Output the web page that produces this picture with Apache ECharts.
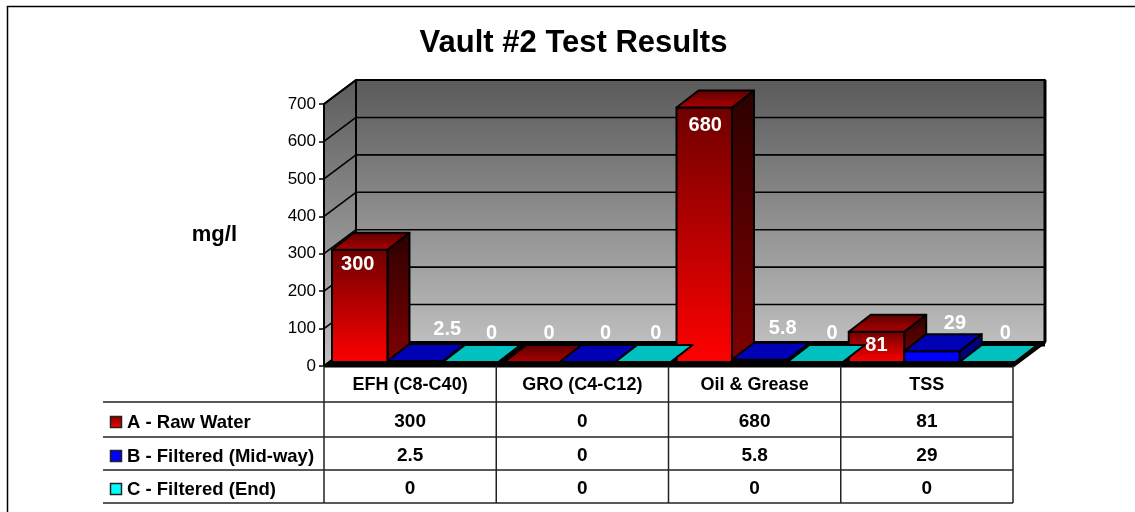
<!DOCTYPE html>
<html>
<head>
<meta charset="utf-8">
<title>Vault #2 Test Results</title>
<script src="https://cdn.jsdelivr.net/npm/echarts@6/dist/echarts.min.js"></script>
<style>
  html, body { margin: 0; padding: 0; background: #fff; }
  #chart { width: 1135px; height: 512px; }
</style>
</head>
<body>
<div id="chart"></div>
<script>
const categories = ['EFH (C8-C40)', 'GRO (C4-C12)', 'Oil & Grease', 'TSS']
const seriesNames = ['A - Raw Water', 'B - Filtered (Mid-way)', 'C - Filtered (End)']
const rawWater = [300, 0, 680, 81]
const filteredMid = [2.5, 0, 5.8, 29]
const filteredEnd = [0, 0, 0, 0]
const allValues = [rawWater, filteredMid, filteredEnd]
const yTicks = [100, 200, 300, 400, 500, 600, 700]

const FONT = 'Liberation Sans'
// depth of the whole plot box, of a bar, and of the bar's gap from the front edge
const BOX_DX = 32, BOX_DY = -24
const BAR_DX = 22, BAR_DY = -17
const BAR_INSET = 8, BAR_LIFT = 4, BAR_WIDTH_FRAC = 0.322
const rowY = [402, 437, 470, 503]

// hand placement of the value labels, like the original chart has them
const labelDx = [[-2, 17, 1, 0], [32, 18, 23, 23], [21, 13, 17, 18]]
const labelDy = [[15, -29, 18, 14], [-32, -29, -31, -28], [-29, -29, -29, -29]]

const vgrad = (c0, c1) => new echarts.graphic.LinearGradient(0, 0, 0, 1, [
  { offset: 0, color: c0 }, { offset: 1, color: c1 }
])
const edge = { stroke: '#000', lineWidth: 2, lineJoin: 'round' }

const barStyles = [
  { front: ['#6e0000', '#ff0000'], side: ['#2c0000', '#800000'], top: ['#5a0000', '#b00000'] },
  { front: ['#0000ff', '#0000ff'], side: ['#000080', '#000080'], top: ['#0000b4', '#0000b4'] },
  { front: ['#00ffff', '#00ffff'], side: ['#008080', '#008080'], top: ['#00c0c0', '#00c0c0'] }
]

const poly = (points, fill) => ({
  type: 'polygon', shape: { points: points },
  style: Object.assign({}, edge, { fill: fill })
})
const line = (x1, y1, x2, y2, width, color) => ({
  type: 'line', shape: { x1: x1, y1: y1, x2: x2, y2: y2 },
  style: { stroke: color || '#000', lineWidth: width || 2 }
})

function renderBox(params, api) {
  const c = params.coordSys
  const l = c.x, r = c.x + c.width, t = c.y, b = c.y + c.height
  return {
    type: 'group',
    children: [
      poly([[l + BOX_DX, t + BOX_DY], [r + BOX_DX, t + BOX_DY], [r + BOX_DX, b + BOX_DY], [l + BOX_DX, b + BOX_DY]],
        vgrad('#5a5a5a', '#bebebe')),
      poly([[l, t], [l + BOX_DX, t + BOX_DY], [l + BOX_DX, b + BOX_DY], [l, b]], vgrad('#5c5c5c', '#c0c0c0')),
      poly([[l, b], [l + BOX_DX, b + BOX_DY], [r + BOX_DX, b + BOX_DY], [r, b]], '#000'),
      line(l, b, r, b, 3),
      line(r, b, r + BOX_DX, b + BOX_DY, 3),
      line(l + BOX_DX, b + BOX_DY + 2, r + BOX_DX, b + BOX_DY + 2, 5),
      line(r + BOX_DX, t + BOX_DY, r + BOX_DX, b + BOX_DY, 3)
    ]
  }
}

function renderGridLine(params, api) {
  const c = params.coordSys
  const y = api.coord([0, api.value(0)])[1]
  return {
    type: 'group',
    children: [
      line(c.x, y, c.x + BOX_DX, y + BOX_DY, 1.6),
      line(c.x + BOX_DX, y + BOX_DY, c.x + c.width + BOX_DX, y + BOX_DY, 1.6)
    ]
  }
}

function makeBarRenderer(s) {
  return function (params, api) {
    const i = params.dataIndex
    const value = api.value(1)
    const band = api.size([1, 0])[0]
    const pos = api.coord([i, value])
    const base = api.coord([i, 0])[1] - BAR_LIFT
    const width = band * BAR_WIDTH_FRAC
    const x0 = pos[0] - band / 2 + BAR_INSET + s * width
    const x1 = x0 + width
    const top = pos[1] - BAR_LIFT
    const st = barStyles[s]
    const children = []
    if (base - top >= 1) {
      children.push(poly([[x1, top], [x1 + BAR_DX, top + BAR_DY], [x1 + BAR_DX, base + BAR_DY], [x1, base]], vgrad(st.side[0], st.side[1])))
      children.push(poly([[x0, top], [x1, top], [x1, base], [x0, base]], vgrad(st.front[0], st.front[1])))
    }
    children.push(poly([[x0, top], [x0 + BAR_DX, top + BAR_DY], [x1 + BAR_DX, top + BAR_DY], [x1, top]], vgrad(st.top[0], st.top[1])))
    children.push({
      type: 'text', z2: 10,
      style: {
        text: String(allValues[s][i]),
        x: (x0 + x1) / 2 + labelDx[s][i], y: top + labelDy[s][i],
        fill: '#fff', font: 'bold 20px "' + FONT + '"', textAlign: 'center', textVerticalAlign: 'middle'
      }
    })
    return { type: 'group', children: children }
  }
}

function renderTableColumn(params, api) {
  const i = params.dataIndex
  const band = api.size([1, 0])[0]
  const cx = api.coord([i, 0])[0]
  const yTop = params.coordSys.y + params.coordSys.height
  const children = [line(cx - band / 2, yTop, cx - band / 2, rowY[3], 1.5, '#222')]
  if (i === categories.length - 1) {
    children.push(line(cx + band / 2, yTop, cx + band / 2, rowY[3], 1.5, '#222'))
  }
  allValues.forEach(function (vals, r) {
    children.push({
      type: 'text',
      style: {
        text: String(vals[i]), x: cx, y: (rowY[r] + rowY[r + 1]) / 2 + 2,
        fill: '#000', font: 'bold 19px "' + FONT + '"', textAlign: 'center', textVerticalAlign: 'middle'
      }
    })
  })
  return { type: 'group', children: children }
}

const swatchFills = [['#800000', '#ff0000'], ['#0000ff', '#0000ff'], ['#00ffff', '#00ffff']]
const tableGraphic = [{
  // the frame runs off the right and bottom of the picture
  type: 'rect', silent: true, shape: { x: 7.5, y: 6.5, width: 1200, height: 600 },
  style: { fill: 'none', stroke: '#000', lineWidth: 1.5 }
}]
rowY.forEach(function (y) {
  tableGraphic.push({
    type: 'line', silent: true, shape: { x1: 103, y1: y, x2: 1013, y2: y },
    style: { stroke: '#222', lineWidth: 1.5 }
  })
})
seriesNames.forEach(function (name, r) {
  const mid = (rowY[r] + rowY[r + 1]) / 2
  tableGraphic.push({
    type: 'rect', silent: true, shape: { x: 110.5, y: mid - 3, width: 11, height: 11 },
    style: { fill: vgrad(swatchFills[r][0], swatchFills[r][1]), stroke: '#222', lineWidth: 1.5 }
  })
  tableGraphic.push({
    type: 'text', silent: true, x: 127, y: mid + 3,
    style: { text: name, fill: '#000', font: 'bold 18.5px "' + FONT + '"', textVerticalAlign: 'middle' }
  })
})

const chart = echarts.init(document.getElementById('chart'), null, { renderer: 'canvas' })
chart.setOption({
  animation: false,
  backgroundColor: '#fff',
  title: {
    text: 'Vault #2 Test Results',
    left: 568.5, top: 23, textAlign: 'center',
    textStyle: { fontFamily: FONT, fontSize: 31, fontWeight: 'bold', color: '#000' }
  },
  grid: { left: 324, right: 122, top: 104, height: 262 },
  xAxis: {
    type: 'category', data: categories,
    axisLine: { show: false }, axisTick: { show: false },
    axisLabel: { color: '#000', fontFamily: FONT, fontSize: 18, fontWeight: 'bold', margin: 10, interval: 0 }
  },
  yAxis: {
    type: 'value', min: 0, max: 700, interval: 100,
    name: 'mg/l', nameLocation: 'middle', nameRotate: 0, nameGap: 87,
    nameTextStyle: { color: '#000', fontFamily: FONT, fontSize: 22, fontWeight: 'bold' },
    splitLine: { show: false },
    axisLine: { show: false },
    axisTick: { show: true, length: 5, lineStyle: { color: '#000', width: 1.5 } },
    axisLabel: { color: '#000', fontFamily: FONT, fontSize: 17, margin: 8 }
  },
  graphic: tableGraphic,
  series: [
    { type: 'custom', name: 'box', data: [[0, 0]], z: 1, silent: true, renderItem: renderBox },
    { type: 'custom', name: 'gridlines', data: yTicks.map(v => [v]), encode: { y: 0 }, z: 2, silent: true, renderItem: renderGridLine },
    { type: 'custom', name: seriesNames[0], data: rawWater.map((v, i) => [i, v]), z: 3, renderItem: makeBarRenderer(0) },
    { type: 'custom', name: seriesNames[1], data: filteredMid.map((v, i) => [i, v]), z: 4, renderItem: makeBarRenderer(1) },
    { type: 'custom', name: seriesNames[2], data: filteredEnd.map((v, i) => [i, v]), z: 5, renderItem: makeBarRenderer(2) },
    { type: 'custom', name: 'table', data: categories.map((c, i) => [i, 0]), z: 6, silent: true, renderItem: renderTableColumn }
  ]
})
</script>
</body>
</html>
